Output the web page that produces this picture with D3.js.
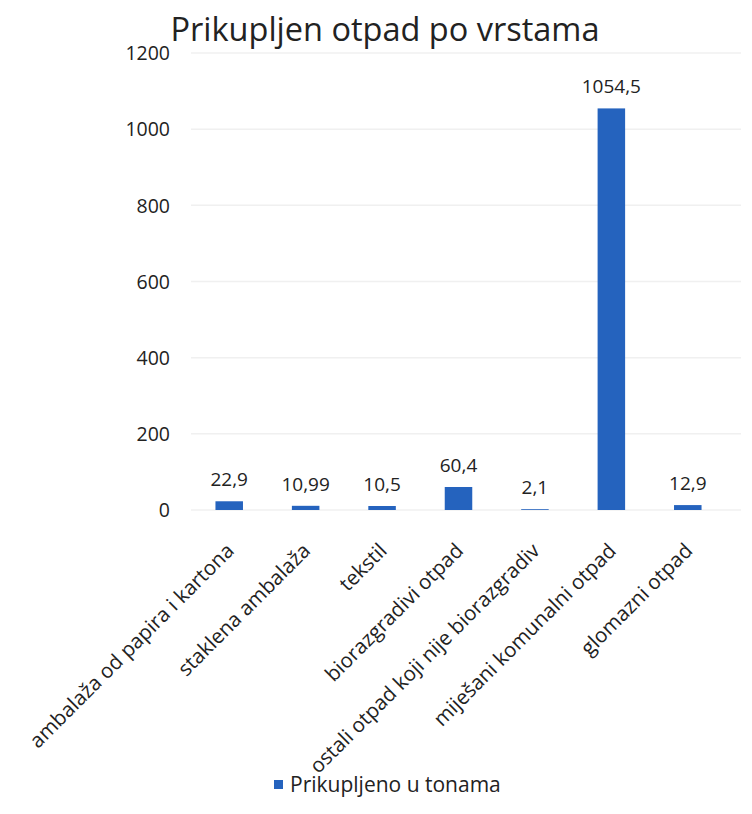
<!DOCTYPE html>
<html>
<head>
<meta charset="utf-8">
<script src="https://cdn.jsdelivr.net/npm/d3@7"></script>
<style>
  body { margin: 0; background: #fff; }
  svg text { font-family: "Open Sans", "Noto Sans", sans-serif; fill: #222; }
</style>
</head>
<body>
<svg id="svg"></svg>
<script>
var categories = ["ambalaža od papira i kartona", "staklena ambalaža", "tekstil", "biorazgradivi otpad",
    "ostali otpad koji nije biorazgradiv", "miješani komunalni otpad", "glomazni otpad"];
var values = [22.9, 10.99, 10.5, 60.4, 2.1, 1054.5, 12.9];
var valueLabels = ["22,9", "10,99", "10,5", "60,4", "2,1", "1054,5", "12,9"];
var yTicks = [0, 200, 400, 600, 800, 1000, 1200];
var title = "Prikupljen otpad po vrstama";
var seriesName = "Prikupljeno u tonama";

var w = 752, h = 814;
var plotLeft = 191, plotRight = 726, plotTop = 53, plotBottom = 510;
var barColor = "#2563be";

var svg = d3.select("#svg")
    .attr("width", w)
    .attr("height", h)

var x = d3.scaleBand()
    .domain(categories)
    .range([plotLeft, plotRight])
    .paddingInner(0.64)
    .paddingOuter(0.32)

var y = d3.scaleLinear()
    .domain([0, 1200])
    .range([plotBottom, plotTop])

// gridlines
svg.append("g")
    .selectAll("line")
    .data(yTicks)
    .enter().append("line")
    .attr("x1", plotLeft)
    .attr("x2", plotRight + 15)
    .attr("y1", function(d){return y(d);})
    .attr("y2", function(d){return y(d);})
    .attr("stroke", "#f0f0f0")
    .attr("stroke-width", 1.5)

// y axis labels
var yAxis = d3.axisLeft(y).tickValues(yTicks).tickFormat(d3.format("d")).tickSize(0).tickPadding(0)
var gy = svg.append("g")
    .attr("transform", "translate(170,0)")
    .call(yAxis)
gy.select(".domain").remove()
gy.selectAll("text")
    .attr("font-size", "19.5px")
    .style("font-family", "'Open Sans', sans-serif")
    .attr("fill", "#222")
    .attr("dy", "0.35em")

// bars
svg.append("g")
    .selectAll("rect")
    .data(values)
    .enter().append("rect")
    .attr("x", function(d, i){return x(categories[i]);})
    .attr("width", x.bandwidth())
    .attr("y", function(d){return y(d);})
    .attr("height", function(d){return y(0) - y(d);})
    .attr("fill", barColor)

// value labels, just above each bar
svg.append("g")
    .selectAll("text")
    .data(values)
    .enter().append("text")
    .attr("x", function(d, i){return x(categories[i]) + x.bandwidth() / 2;})
    .attr("y", function(d){return y(d) - 15;})
    .attr("text-anchor", "middle")
    .attr("font-size", "19px")
    .text(function(d, i){return valueLabels[i];})

// category labels, rotated
svg.append("g")
    .selectAll("text")
    .data(categories)
    .enter().append("text")
    .attr("transform", function(d){
        var cx = x(d) + x.bandwidth() / 2 + 6;
        return "translate(" + cx + ",552) rotate(-45)";
    })
    .attr("text-anchor", "end")
    .attr("font-size", "20.5px")
    .attr("fill", "#3a3a3a")
    .text(function(d){return d;})

// title
svg.append("text")
    .attr("x", 385)
    .attr("y", 41)
    .attr("text-anchor", "middle")
    .attr("font-size", "32.5px")
    .text(title)

// legend
svg.append("rect")
    .attr("x", 274)
    .attr("y", 780)
    .attr("width", 9)
    .attr("height", 9)
    .attr("fill", barColor)
svg.append("text")
    .attr("x", 290)
    .attr("y", 792)
    .attr("font-size", "21px")
    .text(seriesName)
</script>
</body>
</html>
